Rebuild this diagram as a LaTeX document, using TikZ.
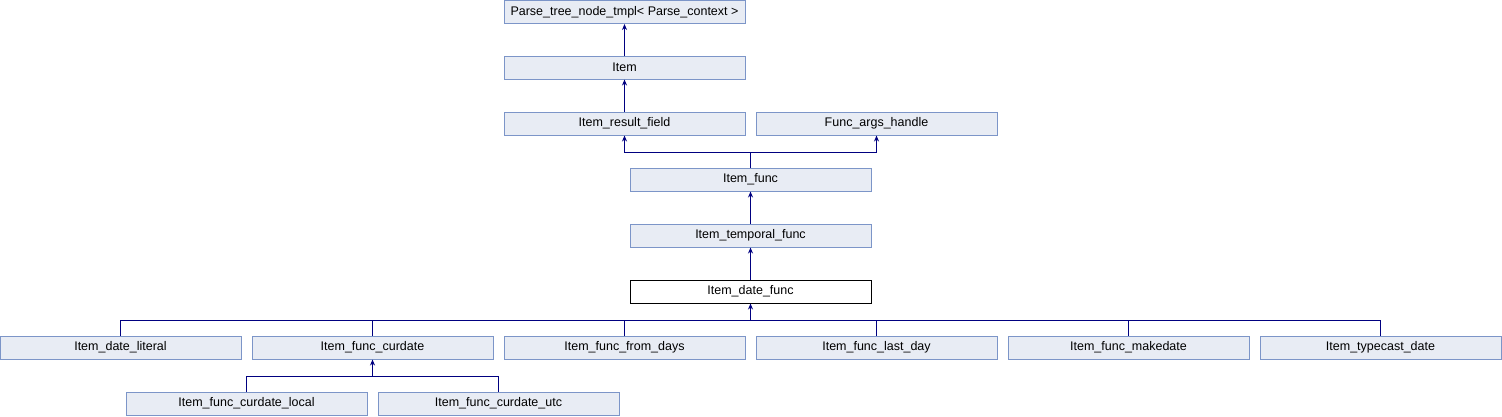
\documentclass[tikz,border=0pt]{standalone}
\usepackage{fontspec}
\setmainfont{Liberation Sans}
\usepackage{xcolor}
\usetikzlibrary{arrows.meta,positioning}
\definecolor{edgeblue}{RGB}{0,0,128}
\definecolor{boxline}{RGB}{124,149,200}
\definecolor{boxfill}{RGB}{232,236,244}

\tikzset{
  cls/.style={draw=boxline, fill=boxfill, line width=1pt, minimum width=241pt,
              minimum height=23pt, inner sep=0pt, font=\fontsize{12.5}{14}\selectfont},
  curcls/.style={cls, draw=black, fill=white},
  link/.style={draw=edgeblue, line width=1pt},
  inherit/.style={link, -{Stealth[length=6pt,width=5pt]}}
}

\begin{document}
\begin{tikzpicture}[x=1pt, y=-1pt]
  \useasboundingbox (0,0) rectangle (1502,416);
  % upper chain
  \node[cls](ptree) at (624.5,12){Parse\_tree\_node\_tmpl< Parse\_context >};
  \node[cls](item) at (624.5,67.5){Item};
  \node[cls](resfield) at (624.5,123.5){Item\_result\_field};
  \node[cls](argshandle) at (876.5,123.5){Func\_args\_handle};
  \node[cls](func) at (750.5,179.5){Item\_func};
  \node[cls](temporal) at (750.5,235.5){Item\_temporal\_func};
  \node[curcls](datefunc) at (750.5,291.5){Item\_date\_func};
  % derived classes
  \node[cls](literal) at (120.5,347.5){Item\_date\_literal};
  \node[cls](curdate) at (372.5,347.5){Item\_func\_curdate};
  \node[cls](fromdays) at (624.5,347.5){Item\_func\_from\_days};
  \node[cls](lastday) at (876.5,347.5){Item\_func\_last\_day};
  \node[cls](makedate) at (1128.5,347.5){Item\_func\_makedate};
  \node[cls](typecast) at (1380.5,347.5){Item\_typecast\_date};
  \node[cls](curlocal) at (246.5,403.5){Item\_func\_curdate\_local};
  \node[cls](curutc) at (498.5,403.5){Item\_func\_curdate\_utc};

  \draw[inherit](item.north) -- (ptree.south);
  \draw[inherit](resfield.north) -- (item.south);
  \coordinate (jfunc) at (750.5,152);
  \draw[link](func.north) -- (jfunc);
  \draw[inherit](jfunc) -| (resfield.south);
  \draw[inherit](jfunc) -| (argshandle.south);
  \draw[inherit](temporal.north) -- (func.south);
  \draw[inherit](datefunc.north) -- (temporal.south);

  \coordinate (jdate) at (750.5,320);
  \foreach \c in {literal,curdate,fromdays,lastday,makedate,typecast}
    \draw[link](\c.north) |- (jdate);
  \draw[inherit](jdate) -- (datefunc.south);

  \coordinate (jcur) at (372.5,376);
  \foreach \c in {curlocal,curutc}
    \draw[link](\c.north) |- (jcur);
  \draw[inherit](jcur) -- (curdate.south);
\end{tikzpicture}
\end{document}
